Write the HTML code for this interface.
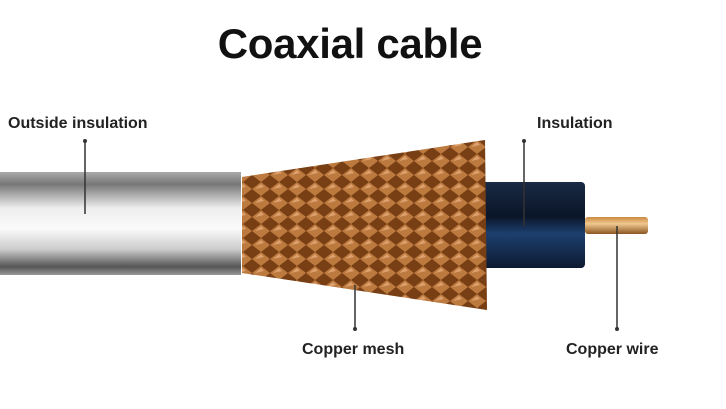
<!DOCTYPE html>
<html><head><style>
body{margin:0;width:726px;height:409px;background:#fff;overflow:hidden;position:relative;font-family:"Liberation Sans",sans-serif}
.t{position:absolute;font-weight:bold;color:#222;font-size:16px}
</style></head><body>
<div class="t" style="left:0;width:700px;top:20px;text-align:center;font-size:42px;letter-spacing:-0.3px;color:#111">Coaxial cable</div>
<div class="t" style="left:8px;top:115px">Outside insulation</div>
<div class="t" style="left:537px;top:115px">Insulation</div>
<div class="t" style="left:302px;top:341px">Copper mesh</div>
<div class="t" style="left:566px;top:341px">Copper wire</div>
<svg width="726" height="409" style="position:absolute;left:0;top:0">
<defs>
<linearGradient id="g" x1="0" y1="0" x2="0" y2="1">
<stop offset="0" stop-color="#aaa"/><stop offset="0.12" stop-color="#777"/><stop offset="0.35" stop-color="#eee"/><stop offset="0.55" stop-color="#fafafa"/><stop offset="0.75" stop-color="#ccc"/><stop offset="0.92" stop-color="#555"/><stop offset="1" stop-color="#999"/></linearGradient>
<linearGradient id="b" x1="0" y1="0" x2="0" y2="1">
<stop offset="0" stop-color="#1a2a44"/><stop offset="0.4" stop-color="#0a1528"/><stop offset="0.6" stop-color="#1d3f6e"/><stop offset="1" stop-color="#0c1a30"/></linearGradient>
<linearGradient id="w" x1="0" y1="0" x2="0" y2="1">
<stop offset="0" stop-color="#c98a40"/><stop offset="0.4" stop-color="#f0c890"/><stop offset="1" stop-color="#8a5520"/></linearGradient>
<pattern id="m" width="18" height="14" patternUnits="userSpaceOnUse">
<rect width="18" height="14" fill="#6b3410"/>
<path d="M0 7 L9 0 L18 7 L9 14Z" fill="#c7844a"/>
<path d="M3 7 L9 2 L12 5Z" fill="#f0b888"/>
</pattern>
</defs>
<rect x="0" y="172" width="241" height="103" fill="url(#g)"/>
<rect x="480" y="182" width="105" height="86" rx="4" fill="url(#b)"/>
<rect x="585" y="217" width="63" height="17" rx="3" fill="url(#w)"/>
<polygon points="242,177 485,140 487,310 242,273" fill="url(#m)"/>
<polygon points="242,177 485,140 487,310 242,273" fill="#a05a20" opacity="0.25"/>
<g stroke="#333" stroke-width="1.5">
<line x1="85" y1="140" x2="85" y2="214"/><line x1="524" y1="140" x2="524" y2="226"/>
<line x1="355" y1="285" x2="355" y2="330"/><line x1="617" y1="226" x2="617" y2="330"/>
</g>
<g fill="#333"><circle cx="85" cy="141" r="2"/><circle cx="524" cy="141" r="2"/><circle cx="355" cy="329" r="2"/><circle cx="617" cy="329" r="2"/></g>
</svg>
</body></html>
